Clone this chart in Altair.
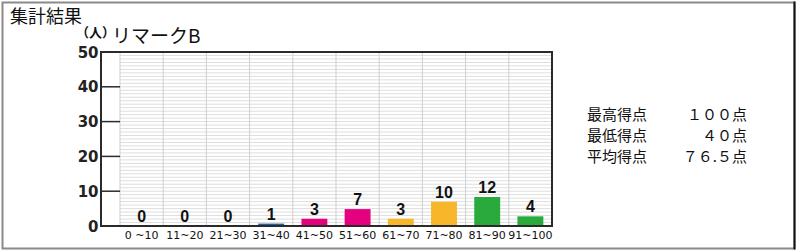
import altair as alt
import pandas as pd

# Score bands and number of students in each
bands = ["0 ~10", "11~20", "21~30", "31~40", "41~50",
         "51~60", "61~70", "71~80", "81~90", "91~100"]
counts = [0, 0, 0, 1, 3, 7, 3, 10, 12, 4]
bar_colors = ["#2060a8", "#2060a8", "#2060a8", "#2060a8", "#e4007f",
              "#e4007f", "#f8b62b", "#f8b62b", "#2aaa3c", "#2aaa3c"]

# Axis ticks (people)
y_ticks = [0, 10, 20, 30, 40, 50]
inner_ticks = [10, 20, 30, 40]

# Summary statistics shown beside the chart
stat_labels = ["最高得点", "最低得点", "平均得点"]
stat_values = ["１００点", "４０点", "７６.５点"]

W, H = 451, 174
LEFT, TOP = 101, 52
X_MIN = -0.44           # white margin between the axis line and the first band
BAR_MAX = 72            # bar scale of the panel

xs = alt.Scale(domain=[X_MIN, len(bands)], nice=False, zero=False)
ys = alt.Scale(domain=[0, 50], nice=False)
bar_ys = alt.Scale(domain=[0, BAR_MAX], nice=False)

bars_df = pd.DataFrame({
    "i": range(len(bands)),
    "band": bands,
    "count": counts,
    "color": bar_colors,
})
bars_df["x0"] = bars_df["i"] + 0.2
bars_df["x1"] = bars_df["i"] + 0.8
bars_df["xc"] = bars_df["i"] + 0.5

hgrid_df = pd.DataFrame({"y": list(range(1, 50)), "x0": 0, "x1": len(bands)})
vgrid_df = pd.DataFrame({"x": list(range(0, len(bands)))})
frame_df = pd.DataFrame({"x0": [X_MIN], "x1": [len(bands)], "y0": [0], "y1": [50]})
tick_df = pd.DataFrame({"y": inner_ticks, "x0": X_MIN, "x1": 0})
stats_df = pd.DataFrame({"row": [0, 1, 2], "label": stat_labels, "value": stat_values})

hgrid = alt.Chart(hgrid_df).mark_rule(color="#dedede", strokeWidth=1).encode(
    x=alt.X("x0:Q", scale=xs, axis=None), x2="x1",
    y=alt.Y("y:Q", scale=ys, axis=None),
)

vgrid = alt.Chart(vgrid_df).mark_rule(color="#cfcfcf", strokeWidth=1).encode(
    x=alt.X("x:Q", scale=xs, axis=None),
    y=alt.value(0), y2=alt.value(H),
)

bars = alt.Chart(bars_df).transform_filter("datum.count > 0").mark_bar().encode(
    x=alt.X("x0:Q", scale=xs, axis=None), x2="x1",
    y=alt.Y("count:Q", scale=bar_ys, axis=None), y2=alt.datum(0),
    color=alt.Color("color:N", scale=None),
)

bar_labels = alt.Chart(bars_df).mark_text(
    font="Liberation Sans", fontWeight="bold", fontSize=16, baseline="bottom",
    dy=-1, color="#111",
).encode(
    x=alt.X("xc:Q", scale=xs, axis=None),
    y=alt.Y("count:Q", scale=bar_ys, axis=None),
    text="count:Q",
)

band_labels = alt.Chart(bars_df).mark_text(
    font="DejaVu Sans", fontSize=11, baseline="middle", color="#111",
).encode(
    x=alt.X("xc:Q", scale=xs, axis=None),
    y=alt.value(H + 10),
    text="band:N",
)

frame = alt.Chart(frame_df).mark_rect(
    fill=None, stroke="#2a2a2a", strokeWidth=2,
).encode(
    x=alt.X("x0:Q", scale=xs, axis=None), x2="x1",
    y=alt.Y("y0:Q", scale=ys, axis=alt.Axis(
        values=y_ticks, ticks=False, domain=False, grid=False,
        labelFont="DejaVu Sans", labelFontWeight="bold", labelFontSize=15,
        labelPadding=3, labelColor="#222", labelFlush=False, labelOverlap=False,
        title=None)),
    y2="y1",
)

ticks = alt.Chart(tick_df).mark_rule(color="#2a2a2a", strokeWidth=1.5).encode(
    x=alt.X("x0:Q", scale=xs, axis=None), x2="x1",
    y=alt.Y("y:Q", scale=ys, axis=None),
)

stat_scale = alt.Scale(domain=[0, 2], range=[62.5, 104.5])
stat_label_text = alt.Chart(stats_df).mark_text(
    font="Noto Sans CJK JP", fontSize=15, align="left", baseline="middle", color="#111",
).encode(
    x=alt.value(486),
    y=alt.Y("row:Q", scale=stat_scale, axis=None),
    text="label:N",
)
stat_value_text = alt.Chart(stats_df).mark_text(
    font="Noto Sans CJK JP", fontSize=15, align="right", baseline="middle", color="#111",
).encode(
    x=alt.value(646),
    y=alt.Y("row:Q", scale=stat_scale, axis=None),
    text="value:N",
)

title_df = pd.DataFrame({"t": ["集計結果"]})
title = alt.Chart(title_df).mark_text(
    font="Noto Sans CJK JP", fontSize=18, align="left", baseline="middle", color="#111",
).encode(x=alt.value(10 - LEFT), y=alt.value(18 - TOP), text="t:N")

unit = alt.Chart(pd.DataFrame({"t": ["（人）"]})).mark_text(
    font="Noto Sans CJK JP", fontSize=13, fontWeight="bold", align="left",
    baseline="middle", color="#111",
).encode(x=alt.value(76 - LEFT), y=alt.value(33 - TOP), text="t:N")

panel_name = alt.Chart(pd.DataFrame({"t": ["リマークB"]})).mark_text(
    font="Noto Sans CJK JP", fontSize=19, align="left", baseline="middle", color="#111",
).encode(x=alt.value(112 - LEFT), y=alt.value(37 - TOP), text="t:N")

# Outer border: grey on three sides, dark on the right
border = alt.Chart(pd.DataFrame({"k": [0]})).mark_rect(
    fill=None, stroke="#8a8a8a", strokeWidth=2,
).encode(
    x=alt.value(2.5 - LEFT), x2=alt.value(794.5 - LEFT),
    y=alt.value(2.5 - TOP), y2=alt.value(248.5 - TOP),
)
border_right = alt.Chart(pd.DataFrame({"k": [0]})).mark_rule(
    color="#111", strokeWidth=2,
).encode(
    x=alt.value(794.5 - LEFT), y=alt.value(1.5 - TOP), y2=alt.value(249.5 - TOP),
)

chart = alt.layer(
    border, border_right, hgrid, vgrid, bars, bar_labels, band_labels, frame, ticks,
    stat_label_text, stat_value_text, title, unit, panel_name,
).resolve_scale(y="independent").properties(
    width=W, height=H,
    autosize="none",
    padding={"left": LEFT, "top": TOP, "right": 796 - LEFT - W, "bottom": 251 - TOP - H},
    background="white",
).configure_view(stroke=None)

chart.save("out.html", embed_options={"renderer": "svg", "actions": False})
